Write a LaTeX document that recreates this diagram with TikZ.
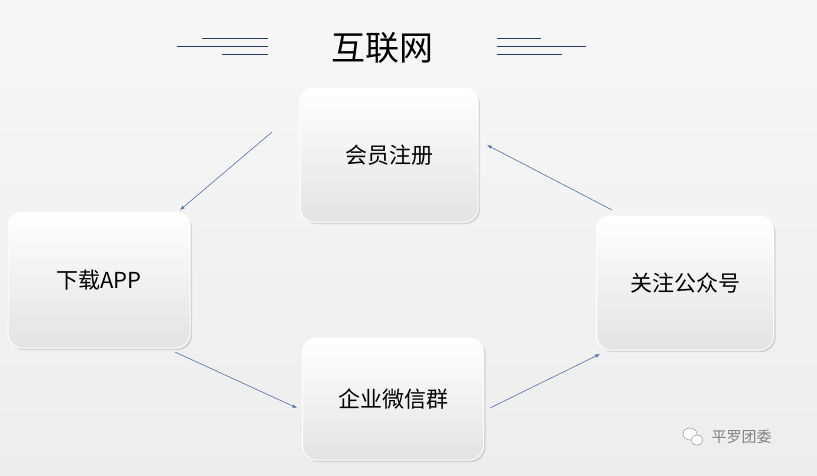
\documentclass[tikz,border=0pt]{standalone}
\usepackage{fontspec}
\newfontfamily\cjk{Noto Sans CJK SC}
\usetikzlibrary{shadows}
\definecolor{linkblue}{RGB}{79, 112, 168}
\definecolor{ruleblue}{RGB}{38, 58, 98}

\begin{document}
\begin{tikzpicture}[x=1pt, y=-1pt,
        stagebox/.style={draw=white, line width=1pt, rounded corners=14pt, top color=white, bottom color=gray!22,
                drop shadow={opacity=0.25, shadow xshift=2pt, shadow yshift=-2pt}, font=\cjk\fontsize{22}{26}\selectfont},
        link/.style={draw=linkblue, line width=0.6pt, -latex}]
            % background
            \shade[top color=gray!6, bottom color=gray!14] (0, 0) rectangle (817, 475);

            % title with rules
            \node[font=\cjk\fontsize{34}{38}\selectfont] (title) at (382, 48) {互联网};
            \draw[ruleblue, line width=0.6pt] (202, 38) -- (268, 38) (177, 46) -- (268, 46) (222, 54) -- (268, 54);
            \draw[ruleblue, line width=0.6pt] (497, 38) -- (541, 38) (497, 46) -- (586, 46) (497, 54) -- (562, 54);

            % stage boxes
            \node[stagebox, minimum width=178pt, minimum height=134pt] (reg) at (389, 155) {会员注册};
            \node[stagebox, minimum width=182pt, minimum height=136pt] (app) at (99, 280) {下载APP};
            \node[stagebox, minimum width=177pt, minimum height=134pt] (pub) at (685, 283) {关注公众号};
            \node[stagebox, minimum width=181pt, minimum height=122pt] (grp) at (393, 399) {企业微信群};

            % arrow end points
            \coordinate (a1) at (272, 132);
            \coordinate (a2) at (180, 210);
            \coordinate (b1) at (175, 352);
            \coordinate (b2) at (297, 408);
            \coordinate (c1) at (490, 408);
            \coordinate (c2) at (600, 354);
            \coordinate (d1) at (612, 210);
            \coordinate (d2) at (487, 145);
            \draw[link] (a1) -- (a2);
            \draw[link] (b1) -- (b2);
            \draw[link] (c1) -- (c2);
            \draw[link] (d1) -- (d2);

            % watermark
            \draw[gray, fill=white] (690, 434) ellipse (7pt and 6pt);
            \draw[gray, fill=white] (697, 440) ellipse (6pt and 5pt);
            \node[font=\cjk\fontsize{15}{17}\selectfont, text=gray, anchor=west] (mark) at (708, 437) {平罗团委};
\end{tikzpicture}
\end{document}
